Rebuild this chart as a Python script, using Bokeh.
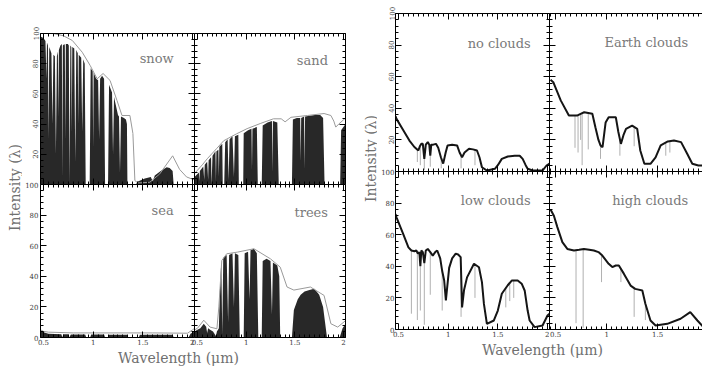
import numpy as np
from bokeh.plotting import figure
from bokeh.layouts import row, column
from bokeh.models import Range1d, LinearAxis, FixedTicker, Label, CustomLabelingPolicy
from bokeh.embed import file_html
from bokeh.resources import INLINE

SERIF = "DejaVu Serif"

# ---------------- ticks ----------------
WAVE_TICKS = [0.5, 1.0, 1.5, 2.0]
WAVE_TICK_TEXT = ["0.5", "1", "1.5", "2"]
WAVE_MINOR = [round(0.40 + 0.05 * i, 2) for i in range(35)]
INT_TICKS = [0, 20, 40, 60, 80, 100]
INT_MINOR = list(range(0, 101, 4))

# ---------------- surfaces (left block) ----------------
SNOW_CONT_X = [0.47, 0.60, 0.70, 0.79, 0.89, 0.97, 1.04, 1.10, 1.17, 1.24, 1.29, 1.37, 1.40, 1.42, 1.45, 1.57, 1.67, 1.80, 1.87, 1.94, 2.02]
SNOW_CONT_Y = [100, 100, 98.5, 95.4, 87.6, 78.8, 70, 73.5, 68.9, 55.6, 45.7, 45.7, 33.8, 2.6, 1, 1.5, 7, 19, 10, 5, 3]
SNOW_SPEC_X = [0.47, 0.50, 0.52, 0.53, 0.535, 0.545, 0.552, 0.558, 0.58, 0.59, 0.60, 0.615, 0.625, 0.635, 0.645, 0.65, 0.655, 0.67, 0.685, 0.69,
               0.695, 0.71, 0.715, 0.72, 0.725, 0.745, 0.755, 0.762, 0.77, 0.78, 0.785, 0.79, 0.81, 0.82, 0.83, 0.845, 0.85, 0.855, 0.88, 0.89,
               0.90, 0.915, 0.925, 0.965, 0.975, 0.995, 1.0, 1.005, 1.03, 1.05, 1.06, 1.07, 1.09, 1.11, 1.12, 1.15, 1.16, 1.19, 1.20, 1.21,
               1.25, 1.26, 1.27, 1.28, 1.31, 1.33, 1.34, 1.345, 1.43, 1.45, 1.52, 1.58, 1.60, 1.62, 1.68, 1.74, 1.77, 1.80, 1.81, 2.02]
SNOW_SPEC_Y = [98, 97, 95, 70, 94, 92, 30, 91, 87, 40, 86, 85, 20, 85, 88, 45, 89, 92, 93, 5,
               92, 93, 92, 30, 93, 93, 92, 0, 92, 91, 35, 91, 90, 15, 89, 87, 40, 86, 84, 35,
               83, 80, 0, 0, 77, 75, 25, 74, 70, 69, 30, 70, 72, 70, 0, 0, 66, 61, 20, 58,
               46, 45, 8, 45, 44, 43, 40, 0, 0, 2, 4, 5, 2, 6, 9, 11.5, 11, 9, 0, 0]

SAND_CONT_X = [0.47, 0.48, 0.55, 0.60, 0.70, 0.77, 0.90, 1.01, 1.15, 1.28, 1.36, 1.40, 1.46, 1.63, 1.80, 1.87, 1.90, 1.92, 1.95, 2.02]
SAND_CONT_Y = [7, 8, 13, 17, 24, 29, 33.5, 37, 40.5, 43.5, 43.5, 41.5, 44.5, 45.7, 47, 45.7, 42, 38, 40, 44]
SAND_SPEC_X = [0.47, 0.50, 0.515, 0.52, 0.525, 0.56, 0.57, 0.575, 0.60, 0.61, 0.615, 0.64, 0.645, 0.655, 0.685, 0.69, 0.695, 0.715, 0.72, 0.725,
               0.755, 0.76, 0.775, 0.785, 0.81, 0.82, 0.83, 0.86, 0.875, 0.885, 0.92, 0.925, 0.97, 0.975, 1.02, 1.055, 1.06, 1.065, 1.11, 1.12,
               1.16, 1.17, 1.22, 1.265, 1.27, 1.275, 1.32, 1.335, 1.47, 1.48, 1.52, 1.555, 1.56, 1.565, 1.595, 1.60, 1.605, 1.70, 1.76, 1.79,
               1.805, 1.965, 1.975, 2.02]
SAND_SPEC_Y = [5, 7, 8, 2, 9, 12, 3, 13, 15, 3, 16, 18, 0, 19, 22, 2, 22, 23, 5, 25,
               27, 0, 0, 28, 30, 3, 30, 32, 5, 32, 33, 0, 0, 34, 36, 37, 10, 37, 38, 0,
               0, 39, 41, 42, 8, 42, 41, 0, 0, 43, 44, 44, 15, 44, 45, 10, 45, 46, 46, 44,
               0, 0, 36, 40]

SEA_CONT_X = [0.47, 0.50, 0.55, 0.80, 1.20, 1.60, 1.95, 2.00, 2.02]
SEA_CONT_Y = [5, 4, 3.5, 3, 3, 3, 2.8, 5, 6]
SEA_SPEC_X = [0.47, 0.50, 0.55, 0.68, 0.69, 0.70, 0.75, 0.76, 0.775, 0.92, 0.93, 0.97, 0.98, 1.11, 1.12, 1.15, 1.16, 1.34, 1.35, 1.46,
              1.47, 1.80, 1.81, 1.96, 1.98, 2.02]
SEA_SPEC_Y = [4.5, 3.5, 2.5, 2.2, 0, 2.2, 2.1, 0, 2, 2, 0, 0, 2, 2, 0, 0, 1.8, 1.8, 0, 0,
              1.8, 1.8, 0, 0, 2.5, 4]

TREES_CONT_X = [0.47, 0.50, 0.565, 0.63, 0.70, 0.72, 0.75, 0.80, 0.91, 1.08, 1.25, 1.35, 1.42, 1.49, 1.66, 1.80, 1.87, 1.94, 2.02]
TREES_CONT_Y = [5, 6, 11.3, 6.8, 5.7, 20, 50.3, 54.7, 55.8, 58, 51.4, 46, 33, 31, 33, 27.5, 9, 6.8, 11]
TREES_SPEC_X = [0.47, 0.50, 0.53, 0.565, 0.59, 0.60, 0.61, 0.63, 0.66, 0.69, 0.70, 0.72, 0.73, 0.745, 0.755, 0.765, 0.80, 0.815, 0.825, 0.86,
                0.875, 0.885, 0.92, 0.935, 0.975, 0.985, 1.02, 1.035, 1.045, 1.08, 1.11, 1.125, 1.16, 1.17, 1.21, 1.25, 1.265, 1.275, 1.32, 1.34,
                1.35, 1.47, 1.49, 1.53, 1.56, 1.60, 1.65, 1.70, 1.75, 1.79, 1.81, 1.83, 1.96, 1.99, 2.02]
TREES_SPEC_Y = [4, 5, 6, 9, 7, 3, 6, 5, 4, 1, 4, 6, 30, 50, 2, 52, 54, 10, 54, 55,
                20, 55, 54, 0, 0, 55, 56, 25, 57, 58, 55, 0, 0, 50, 51.4, 50, 15, 49, 47, 40,
                0, 0, 18, 25, 28, 30, 31, 31.8, 28, 20, 10, 0, 0, 6, 9]

# ---------------- planet with clouds (right block) ----------------
NOCLOUD_X = [0.47, 0.48, 0.55, 0.61, 0.66, 0.70, 0.715, 0.73, 0.745, 0.76, 0.775, 0.795, 0.81, 0.82, 0.83, 0.85, 0.877, 0.90, 0.927, 0.95,
             0.975, 0.994, 1.04, 1.09, 1.115, 1.14, 1.165, 1.21, 1.25, 1.29, 1.315, 1.34, 1.39, 1.47, 1.50, 1.54, 1.60, 1.67, 1.72, 1.75,
             1.78, 1.80, 1.85, 1.95, 1.99, 2.02]
NOCLOUD_Y = [35, 33.3, 26, 19.6, 15.5, 13.3, 16, 17.5, 17.5, 8, 17, 18.6, 17, 10, 17, 17, 17.5, 15, 9, 5,
             12, 16.5, 17, 16.5, 12, 9, 12, 14.4, 14, 13.3, 9, 2.7, 0.6, 1.7, 4, 8, 9.5, 10, 10, 8,
             4, 1.7, 0.6, 0.6, 3.8, 5]
NOCLOUD_LINES_X = [0.69, 0.72, 0.76, 0.82, 0.93, 1.13, 1.27]
NOCLOUD_LINES_LO = [6, 4, 1, 3, 2, 2, 4]

EARTH_X = [0.45, 0.477, 0.55, 0.63, 0.71, 0.745, 0.78, 0.82, 0.86, 0.89, 0.92, 0.94, 0.96, 0.99, 1.02, 1.09, 1.115, 1.14, 1.165, 1.19,
           1.25, 1.30, 1.33, 1.37, 1.43, 1.48, 1.53, 1.60, 1.66, 1.73, 1.79, 1.84, 1.90, 1.95]
EARTH_Y = [58, 56.5, 45, 35.4, 35.4, 36.5, 37.5, 37, 36.5, 28, 20, 16.5, 15.4, 31, 34.4, 34.4, 25, 17.5, 23, 27,
           29, 27, 13.3, 4.9, 4.9, 9, 16.5, 19, 19.6, 18.6, 11.2, 4.9, 3.8, 3.8]
EARTH_LINES_X = [0.69, 0.72, 0.745, 0.76, 0.82, 0.94, 1.13, 1.27, 1.58, 1.62]
EARTH_LINES_LO = [15, 12, 20, 4, 14, 8, 10, 16, 10, 12]

LOW_X = [0.47, 0.48, 0.547, 0.60, 0.63, 0.66, 0.68, 0.695, 0.71, 0.72, 0.73, 0.745, 0.76, 0.775, 0.795, 0.82, 0.845, 0.87, 0.89, 0.92,
         0.94, 0.96, 0.977, 1.01, 1.04, 1.076, 1.10, 1.126, 1.14, 1.16, 1.19, 1.26, 1.31, 1.34, 1.36, 1.39, 1.46, 1.50, 1.54, 1.60,
         1.64, 1.70, 1.74, 1.77, 1.80, 1.82, 1.87, 1.95, 2.00, 2.02]
LOW_Y = [73, 71, 60.5, 52, 50, 49.5, 50, 48, 49, 40, 50, 49, 42, 50, 51, 49, 46.8, 49, 50, 45,
         37, 31, 18.4, 39, 45, 48, 47.5, 45.8, 14, 25, 33, 41.6, 39.4, 30, 16.2, 3.6, 5.7, 12, 22.6, 28,
         31, 31, 29, 24.7, 12, 5.7, 1.5, 2.5, 8.9, 10]
LOW_LINES_X = [0.63, 0.69, 0.72, 0.76, 0.82, 0.94, 1.13, 1.27, 1.58, 1.62, 1.66]
LOW_LINES_LO = [10, 6, 12, 3, 22, 12, 8, 20, 14, 18, 20]

HIGH_X = [0.45, 0.483, 0.517, 0.566, 0.615, 0.68, 0.73, 0.777, 0.83, 0.875, 0.92, 0.958, 1.02, 1.056, 1.09, 1.12, 1.17, 1.235, 1.28, 1.35,
          1.38, 1.43, 1.48, 1.595, 1.725, 1.82, 1.89, 1.95]
HIGH_Y = [76, 72, 64.8, 55.3, 51, 50, 50.5, 51, 50.5, 50, 49, 46.8, 41.6, 39.5, 40.5, 40.5, 35.2, 27.8, 25.7, 24.7,
          16.3, 5.7, 2.5, 3.6, 6.8, 11, 5.7, 1.5]
HIGH_LINES_X = [0.70, 0.77, 0.95, 1.14, 1.27, 1.38]
HIGH_LINES_LO = [4, 1, 30, 30, 8, 6]

PANEL_NAMES = ["snow", "sand", "sea", "trees", "no clouds", "Earth clouds", "low clouds", "high clouds"]
X_LABEL = "Wavelength (\u03bcm)"
Y_LABEL = "Intensity (\u03bb)"

RANGE_STD = (0.47, 2.02)
RANGE_CUT = (0.44, 1.94)

HIDE_CODE = "for (const i of Array.from(indices)) { indices.unset(i) }\nreturn indices"


def style_axis(ax, ticks, minor, show, orient=None, overrides=None, standoff=2):
    ax.ticker = FixedTicker(ticks=ticks, minor_ticks=minor)
    ax.axis_line_color = "black"
    ax.axis_line_width = 1
    ax.major_tick_in = 6
    ax.major_tick_out = 0
    ax.minor_tick_in = 3
    ax.minor_tick_out = 0
    ax.major_tick_line_color = "black"
    ax.minor_tick_line_color = "black"
    if show:
        ax.major_label_text_font = SERIF
        ax.major_label_text_font_size = "7px"
        ax.major_label_text_color = "#3a3a3a"
        ax.major_label_standoff = standoff
        if orient is not None:
            ax.major_label_orientation = orient
        if overrides:
            ax.major_label_overrides = overrides
    else:
        ax.major_label_text_font_size = "0px"
        ax.major_label_standoff = 0
        ax.major_label_policy = CustomLabelingPolicy(code=HIDE_CODE)


def panel(xr, fw, fh, mb, ylab=None, xlab=False, right=True, standoff=2):
    p = figure(x_range=Range1d(*xr), y_range=Range1d(0, 100),
               frame_width=fw, frame_height=fh,
               min_border_left=mb[0], min_border_top=mb[1],
               min_border_right=mb[2], min_border_bottom=mb[3],
               toolbar_location=None, output_backend="svg",
               x_axis_type=None, y_axis_type=None,
               outline_line_color=None, border_fill_alpha=0,
               background_fill_color="white")
    left = LinearAxis()
    if ylab == "vert":
        style_axis(left, INT_TICKS, INT_MINOR, True, "parallel", {0: ""}, standoff)
    elif ylab == "horiz":
        style_axis(left, INT_TICKS, INT_MINOR, True, "horizontal", None, standoff)
    else:
        style_axis(left, INT_TICKS, INT_MINOR, False)
    p.add_layout(left, "left")
    below = LinearAxis()
    style_axis(below, WAVE_TICKS, WAVE_MINOR, xlab, None,
               dict(zip(WAVE_TICKS, WAVE_TICK_TEXT)), 1)
    p.add_layout(below, "below")
    above = LinearAxis()
    style_axis(above, WAVE_TICKS, WAVE_MINOR, False)
    p.add_layout(above, "above")
    if right:
        r = LinearAxis()
        style_axis(r, INT_TICKS, INT_MINOR, False)
        p.add_layout(r, "right")
    return p


def name_label(p, text, x, y):
    p.add_layout(Label(x=x, y=y, text=text, text_align="right", text_baseline="middle",
                       text_font=SERIF, text_font_size="13px", text_color="#7a7a7a"))


def surface(p, sx, sy, cx, cy):
    assert len(sx) == len(sy) and len(cx) == len(cy)
    p.varea(x=sx, y1=[0] * len(sx), y2=sy, fill_color="#111111", fill_alpha=0.9)
    p.line(x=cx, y=cy, line_color="#9a9a9a", line_width=1)


def planet(p, x, y, lx, llo):
    assert len(x) == len(y) and len(lx) == len(llo)
    tops = np.interp(lx, x, y)
    p.segment(x0=lx, y0=llo, x1=lx, y1=tops, line_color="#9c9c9c", line_width=1, line_alpha=0.8)
    p.line(x=x, y=y, line_color="#151515", line_width=2)


def text_fig(w, h, x, y, text, angle):
    f = figure(x_range=Range1d(0, w), y_range=Range1d(h, 0), frame_width=w, frame_height=h,
               min_border=0, toolbar_location=None, output_backend="svg",
               x_axis_type=None, y_axis_type=None, outline_line_color=None,
               border_fill_alpha=0, background_fill_alpha=0)
    f.add_layout(Label(x=x, y=y, text=text, angle=angle, text_align="center",
                       text_baseline="middle", text_font=SERIF, text_font_size="14px",
                       text_color="#707070"))
    return f


# ---------------- left block ----------------
fA = panel(RANGE_STD, 154, 151, (18, 33, 0, 0), ylab="vert")
fB = panel(RANGE_STD, 151, 151, (0, 33, 2, 0))
fC = panel(RANGE_STD, 154, 153, (18, 6, 0, 12), ylab="horiz", xlab=True)
fD = panel(RANGE_STD, 151, 153, (6, 6, 2, 12), xlab=True)
fD.margin = (0, 0, 0, -6)

surface(fA, SNOW_SPEC_X, SNOW_SPEC_Y, SNOW_CONT_X, SNOW_CONT_Y)
surface(fB, SAND_SPEC_X, SAND_SPEC_Y, SAND_CONT_X, SAND_CONT_Y)
surface(fC, SEA_SPEC_X, SEA_SPEC_Y, SEA_CONT_X, SEA_CONT_Y)
surface(fD, TREES_SPEC_X, TREES_SPEC_Y, TREES_CONT_X, TREES_CONT_Y)
name_label(fA, PANEL_NAMES[0], 1.81, 83.4)
name_label(fB, PANEL_NAMES[1], 1.84, 82)
name_label(fC, PANEL_NAMES[2], 1.81, 83)
name_label(fD, PANEL_NAMES[3], 1.84, 81.7)

ylab1 = text_fig(22, 364, 14, 187, Y_LABEL, np.pi / 2)
xlab1 = text_fig(325, 17, 156, 8, X_LABEL, 0)
bot1 = row(fC, fD)
bot1.margin = (-6, 0, 0, 0)
left_block = row(ylab1, column(row(fA, fB), bot1, xlab1))

# ---------------- right block ----------------
fE = panel(RANGE_STD, 154, 158, (18, 13, 0, 0), ylab="vert", standoff=1)
fF = panel(RANGE_CUT, 153, 158, (0, 13, 0, 0), right=False)
fG = panel(RANGE_STD, 154, 158, (18, 6, 0, 12), ylab="horiz", xlab=True, standoff=1)
fH = panel(RANGE_CUT, 153, 158, (6, 6, 0, 12), xlab=True, right=False)
fH.margin = (0, 0, 0, -6)

planet(fE, NOCLOUD_X, NOCLOUD_Y, NOCLOUD_LINES_X, NOCLOUD_LINES_LO)
planet(fF, EARTH_X, EARTH_Y, EARTH_LINES_X, EARTH_LINES_LO)
planet(fG, LOW_X, LOW_Y, LOW_LINES_X, LOW_LINES_LO)
planet(fH, HIGH_X, HIGH_Y, HIGH_LINES_X, HIGH_LINES_LO)
name_label(fE, PANEL_NAMES[4], 1.83, 81)
name_label(fF, PANEL_NAMES[5], 1.80, 81.6)
name_label(fG, PANEL_NAMES[6], 1.83, 81.6)
name_label(fH, PANEL_NAMES[7], 1.80, 81.6)

ylab2 = text_fig(30, 360, 23, 158, Y_LABEL, np.pi / 2)
xlab2 = text_fig(325, 19, 165, 8, X_LABEL, 0)
bot2 = row(fG, fH)
bot2.margin = (-6, 0, 0, 0)
right_block = row(ylab2, column(row(fE, fF), bot2, xlab2))

p = row(left_block, right_block)
open("out.html", "w").write(file_html(p, INLINE))
